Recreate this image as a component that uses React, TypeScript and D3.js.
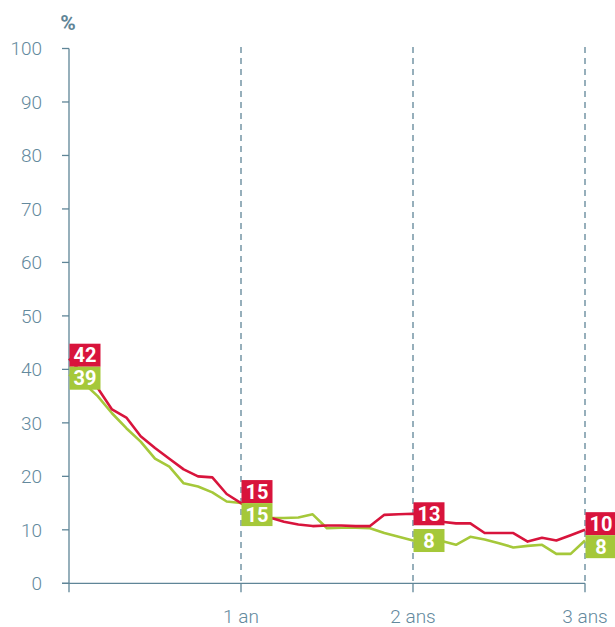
import React from "react";
import * as d3 from "d3";

// months since start, one point per month
const months = d3.range(0, 37);
const redValues = [42, 39, 36.5, 32.5, 31, 27.5, 25.3, 23.3, 21.3, 20, 19.8, 16.7, 15,
  13.5, 12.3, 11.5, 11, 10.7, 10.8, 10.8, 10.7, 10.7, 12.8, 12.9, 13,
  12, 11.5, 11.2, 11.2, 9.4, 9.4, 9.4, 7.8, 8.5, 8, 9, 10];
const greenValues = [39, 37.5, 35, 31.8, 29, 26.5, 23.3, 21.8, 18.7, 18.1, 17, 15.3, 15,
  13, 12.2, 12.2, 12.3, 12.9, 10.3, 10.4, 10.4, 10.3, 9.4, 8.7, 8,
  7.8, 7.9, 7.2, 8.7, 8.2, 7.5, 6.7, 7, 7.2, 5.5, 5.5, 8];
const labelMonths = [0, 12, 24, 36];
const yTicks = [0, 10, 20, 30, 40, 50, 60, 70, 80, 90, 100];
const xTicks = [0, 12, 24, 36];
const xTickLabels = ["", "1 an", "2 ans", "3 ans"];

const RED = "#d8143c";
const GREEN = "#a5c83a";
const AXIS = "#5f8597";
const TEXT = "#63899d";
const FONT = "Roboto, 'Liberation Sans', sans-serif";

const x = d3.scaleLinear().domain([0, 36]).range([69, 585]);
const y = d3.scaleLinear().domain([0, 100]).range([583.3, 48.5]);

const line = d3
  .line<number>()
  .x((d, i) => x(months[i]))
  .y((d) => y(d));

const BOX_W = 31;
const BOX_H = 23;

// centre the two boxes on their values, push apart if they overlap
function boxPositions(m: number) {
  const i = months.indexOf(m);
  let cr = y(redValues[i]);
  let cg = y(greenValues[i]);
  const gap = cg - cr;
  if (gap < BOX_H) {
    const push = (BOX_H - gap) / 2;
    cr -= push;
    cg += push;
  }
  return { i, cr, cg };
}

export default function App() {
  return (
    <svg
      width={615}
      height={627}
      style={{ position: "absolute", left: 0, top: 0, background: "#fff" }}
    >
      <text x={68} y={30} fill={AXIS} fontFamily={FONT} fontWeight={700} fontSize={21} textAnchor="middle">
        %
      </text>

      {/* dashed year lines */}
      {xTicks.slice(1).map((t) => (
        <line
          key={"g" + t}
          x1={x(t)}
          x2={x(t)}
          y1={y(100) - 1.5}
          y2={y(0)}
          stroke={AXIS}
          strokeWidth={1.3}
          strokeDasharray="6,5"
        />
      ))}

      {/* y axis */}
      <line x1={x(0)} x2={x(0)} y1={y(100)} y2={y(0)} stroke={AXIS} strokeWidth={1.3} />
      {yTicks.map((t) => (
        <g key={"y" + t}>
          <line x1={62} x2={x(0)} y1={y(t)} y2={y(t)} stroke={AXIS} strokeWidth={1.3} />
          <text
            x={42}
            y={y(t)}
            dy="0.36em"
            textAnchor="end"
            fill={TEXT}
            fontFamily={FONT}
            fontWeight={300}
            fontSize={19}
          >
            {t}
          </text>
        </g>
      ))}

      {/* x axis */}
      <line x1={62} x2={x(36)} y1={y(0)} y2={y(0)} stroke={AXIS} strokeWidth={1.3} />
      {xTicks.map((t, i) => (
        <g key={"x" + t}>
          <line x1={x(t)} x2={x(t)} y1={y(0)} y2={y(0) + 9} stroke={AXIS} strokeWidth={1.3} />
          <text
            x={x(t)}
            y={623}
            textAnchor="middle"
            fill={TEXT}
            fontFamily={FONT}
            fontWeight={300}
            fontSize={19}
          >
            {xTickLabels[i]}
          </text>
        </g>
      ))}

      <path d={line(greenValues) || ""} fill="none" stroke={GREEN} strokeWidth={2.6} strokeLinejoin="round" />
      <path d={line(redValues) || ""} fill="none" stroke={RED} strokeWidth={2.6} strokeLinejoin="round" />

      {labelMonths.map((m) => {
        const { i, cr, cg } = boxPositions(m);
        const bx = x(m) + 0.5;
        return (
          <g key={"l" + m} fontFamily={FONT} fontWeight={700} fontSize={20} textAnchor="middle" fill="#fff">
            <rect x={bx} y={cr - BOX_H / 2} width={BOX_W} height={BOX_H} fill={RED} />
            <text x={bx + BOX_W / 2} y={cr} dy="0.36em">
              {Math.round(redValues[i])}
            </text>
            <rect x={bx} y={cg - BOX_H / 2} width={BOX_W} height={BOX_H} fill={GREEN} />
            <text x={bx + BOX_W / 2} y={cg} dy="0.36em">
              {Math.round(greenValues[i])}
            </text>
          </g>
        );
      })}
    </svg>
  );
}
